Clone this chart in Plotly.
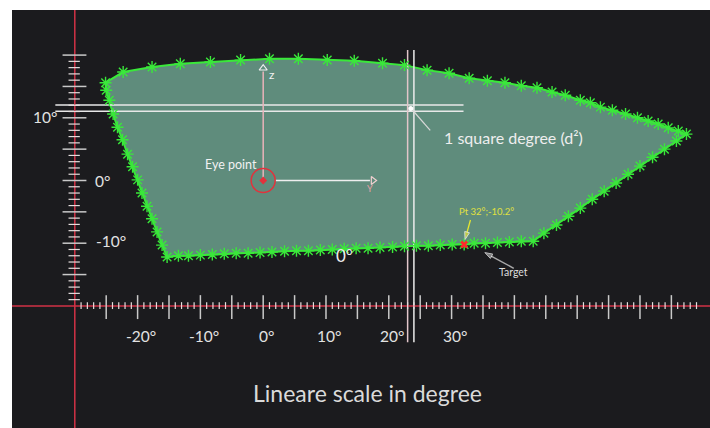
import plotly.graph_objects as go

# ---------------- data (degrees) ----------------
# outline of the visual field (clockwise from top-left)
field_x = [-25.1, -22.3, -17.7, -13.2, -8.4, -3.6, 1.0, 5.6, 10.2, 14.5, 19.0, 22.5, 26.1, 29.6,
           32.8, 35.7, 38.5, 41.1, 43.6, 46.0, 48.1, 50.5, 52.1, 53.7, 55.6, 57.7, 59.6, 61.3,
           62.9, 64.5, 66.1, 67.4,
           65.8, 63.9, 62.0, 60.0, 58.1, 56.2, 54.3, 52.4, 50.5, 48.6, 46.7, 44.7, 43.0,
           41.1, 39.2, 37.3, 35.4, 33.6, 32.0, 30.1, 28.2, 26.3, 24.4, 22.5, 20.6, 18.6, 16.7,
           14.8, 12.9, 11.0, 9.1, 7.2, 5.3, 3.4, 1.4, -0.5, -2.4, -4.3, -6.2, -8.1, -10.0,
           -11.9, -13.5, -15.3,
           -16.1, -16.9, -17.7, -18.5, -19.3, -20.0, -20.8, -21.6, -22.4, -23.2, -23.9, -24.5, -25.0]
field_y = [15.6, 17.3, 18.1, 18.6, 18.9, 19.2, 19.4, 19.4, 19.2, 19.1, 18.7, 18.4, 17.6, 17.1,
           16.3, 15.9, 15.6, 15.1, 14.8, 14.1, 13.6, 12.8, 12.4, 11.7, 11.2, 10.6, 10.0, 9.5,
           9.0, 8.4, 7.9, 7.4,
           6.3, 5.0, 3.7, 2.3, 1.0, -0.4, -1.7, -3.0, -4.4, -5.7, -7.1, -8.4, -9.7,
           -9.7, -9.8, -9.9, -10.0, -10.0, -10.2, -10.2, -10.3, -10.4, -10.4, -10.5, -10.6, -10.7, -10.8,
           -10.8, -10.9, -11.0, -11.1, -11.2, -11.2, -11.3, -11.4, -11.5, -11.6, -11.6, -11.7, -11.8, -11.9,
           -12.0, -12.0, -12.2,
           -10.3, -8.2, -6.1, -4.1, -2.0, 0.1, 2.2, 4.2, 6.5, 8.5, 10.6, 12.8, 14.4]

target_x, target_y = 32.0, -10.2
eye_x, eye_y = 0.0, 0.0
square_x = [23, 24]          # one square degree
square_y = [11, 12]

axis_x0, axis_y0 = -30, -20  # origin of the linear scales
x_major = [-25, -20, -15, -10, -5, 0, 5, 10, 15, 20, 25, 30, 35, 40, 45, 50, 55, 60, 65]
y_major = [-15, -10, -5, 0, 5, 10, 15, 20]
x_minor_span = (-29, 70)
y_minor_span = (-19, 19)
x_tick_labels = [-20, -10, 0, 10, 20, 30]
y_tick_labels = [10, 0, -10]
title_text = "Lineare scale in degree"

# ---------------- styles ----------------
BG = "#1b1b1e"
FILL = "#5f8c7c"
GREEN = "#3ae83a"
RED = "#d23246"
TICK = "#c9c9c9"
TXT = "#e2e2e2"
FONT = "Lato, 'Open Sans', sans-serif"

X_RANGE = [-40.0, 71.15]
Y_RANGE = [-39.47, 27.19]

fig = go.Figure()

def seg_trace(xs, ys, color, width):
    return go.Scatter(x=xs, y=ys, mode="lines", line=dict(color=color, width=width),
                      hoverinfo="skip", showlegend=False)

def arrow_trace(x0, y0, x1, y1, color, width):
    return go.Scatter(x=[x0, x1], y=[y0, y1], mode="lines+markers",
                      line=dict(color=color, width=width),
                      marker=dict(symbol="arrow", size=[0, 8], color=color,
                                  angleref="previous"),
                      hoverinfo="skip", showlegend=False)

# field polygon
fig.add_trace(go.Scatter(x=field_x + [field_x[0]], y=field_y + [field_y[0]], mode="lines",
                         fill="toself", fillcolor=FILL, line=dict(color=GREEN, width=2),
                         hoverinfo="skip", showlegend=False))

# square-degree guide lines
hx, hy = [], []
for v in square_y:
    hx += [-33.1, 31.9, None]
    hy += [v + 0.04, v + 0.04, None]
fig.add_trace(seg_trace(hx, hy, "#e8e8e8", 1.5))
fig.add_trace(seg_trace([square_x[0], square_x[0]], [20.8, -25.8], "#e2c6ca", 1.5))
fig.add_trace(seg_trace([square_x[1], square_x[1]], [20.8, -25.8], "#ececec", 1.5))
cx = (square_x[0] + square_x[1]) / 2
cy = (square_y[0] + square_y[1]) / 2
fig.add_trace(go.Scatter(x=[cx], y=[cy], mode="markers",
                         marker=dict(color="white", size=5), hoverinfo="skip", showlegend=False))
fig.add_trace(seg_trace([cx + 0.3, cx + 3.1], [cy - 0.3, cy - 3.5], "#d8d8d8", 1.2))

# stars along the outline
fig.add_trace(go.Scatter(x=field_x, y=field_y, mode="markers",
                         marker=dict(symbol="asterisk-open", size=10, color=GREEN,
                                     line=dict(color=GREEN, width=1.4)),
                         hoverinfo="skip", showlegend=False))

# red scale axes
fig.add_trace(seg_trace([axis_x0, axis_x0], Y_RANGE, RED, 1.5))
fig.add_trace(seg_trace([X_RANGE[0], X_RANGE[1]], [axis_y0, axis_y0], RED, 1.5))

# ticks on the horizontal scale
tx, ty = [], []
for v in x_major:
    tx += [v, v, None]
    ty += [axis_y0 + 1.72, axis_y0 - 2.1, None]
fig.add_trace(seg_trace(tx, ty, TICK, 1.5))
tx, ty = [], []
for v in range(x_minor_span[0], x_minor_span[1] + 1):
    if v % 5:
        tx += [v, v, None]
        ty += [axis_y0 + 0.6, axis_y0 - 0.5, None]
fig.add_trace(seg_trace(tx, ty, "#e6dede", 1.2))

# ticks on the vertical scale
tx, ty = [], []
for v in y_major:
    tx += [axis_x0 - 1.95, axis_x0 + 1.85, None]
    ty += [v, v, None]
fig.add_trace(seg_trace(tx, ty, TICK, 1.5))
tx, ty = [], []
for v in range(y_minor_span[0], y_minor_span[1] + 1):
    if v % 5:
        tx += [axis_x0 - 1.0, axis_x0 + 0.8, None]
        ty += [v, v, None]
fig.add_trace(seg_trace(tx, ty, "#e6dede", 1.2))

# eye point with its local axes
fig.add_trace(seg_trace([eye_x, eye_x], [eye_y + 0.3, eye_y + 17.4], "#e9b3b9", 1.5))
fig.add_trace(seg_trace([eye_x + 1.9, eye_x + 17.0], [eye_y, eye_y], "#eeeeee", 1.5))
fig.add_trace(go.Scatter(x=[eye_x], y=[eye_y + 17.9], mode="markers",
                         marker=dict(symbol="triangle-up-open", size=7, color="#f0f0f0",
                                     line=dict(color="#f0f0f0", width=1.2)),
                         hoverinfo="skip", showlegend=False))
fig.add_trace(go.Scatter(x=[eye_x + 17.5], y=[eye_y], mode="markers",
                         marker=dict(symbol="triangle-right-open", size=7, color="#f0d0d0",
                                     line=dict(color="#f0d0d0", width=1.2)),
                         hoverinfo="skip", showlegend=False))
fig.add_trace(go.Scatter(x=[eye_x], y=[eye_y], mode="markers",
                         marker=dict(symbol="circle-open", size=24, color="#e2323c",
                                     line=dict(color="#e2323c", width=1.5)),
                         hoverinfo="skip", showlegend=False))
fig.add_trace(go.Scatter(x=[eye_x], y=[eye_y], mode="markers",
                         marker=dict(symbol="diamond", size=6, color="#e2323c"),
                         hoverinfo="skip", showlegend=False))

# pointers to the target
fig.add_trace(arrow_trace(target_x + 1.0, target_y + 3.9, target_x + 0.15, target_y + 0.8,
                          "#e6e630", 1.3))
fig.add_trace(arrow_trace(target_x + 7.9, target_y - 3.8, target_x + 3.3, target_y - 1.3,
                          "#a8a8a8", 1.5))

# target
fig.add_trace(go.Scatter(x=[target_x], y=[target_y], mode="markers",
                         marker=dict(symbol="x", size=7, color="#ff2a2a"),
                         hoverinfo="skip", showlegend=False))

ann = []
def txt(x, y, s, size, color=TXT, xanchor="center"):
    ann.append(dict(x=x, y=y, xref="x", yref="y", text=s, showarrow=False,
                    xanchor=xanchor, yanchor="middle",
                    font=dict(family=FONT, size=size, color=color)))

for v in x_tick_labels:
    txt(v + 0.5, axis_y0 - 4.8, f"{v}°", 15.5)
label_pos = {10: (-34.7, 10.1), 0: (-25.6, 0.0), -10: (-24.3, -9.7)}
for v in y_tick_labels:
    px, py = label_pos[v]
    txt(px, py, f"{v}°", 15.5)

txt(16.6, -33.9, title_text, 23, "#dadada")
txt(-5.1, 2.55, "Eye point", 12.5, "#f2f2f2")
txt(1.4, 16.9, "z", 12, "#f2f2f2")
txt(17.0, -1.35, "Y", 9, "#e8a0a8")
txt(28.4, 6.9, "1 square degree (d²)", 16, "#eeeeee", xanchor="left")
txt(12.9, -12.0, "0°", 17, "#eeeeee")
txt(35.5, -5.0, "Pt 32°;-10.2°", 9.5, "#e0e040")
txt(39.8, -14.6, "Target", 10.5, "#dddddd")

fig.update_layout(
    width=710, height=428, autosize=False,
    margin=dict(l=12, r=0, t=10, b=0, pad=0),
    paper_bgcolor="white", plot_bgcolor=BG,
    showlegend=False, annotations=ann,
    xaxis=dict(range=X_RANGE, visible=False, fixedrange=True),
    yaxis=dict(range=Y_RANGE, visible=False, fixedrange=True),
)

fig.write_html("out.html", config={"displayModeBar": False},
               post_script="document.body.style.margin='0';")
